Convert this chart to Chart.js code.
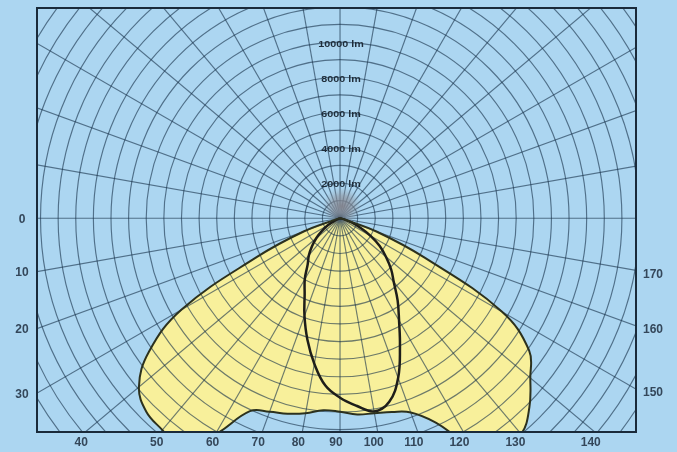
<!DOCTYPE html>
<html><head><meta charset="utf-8">
<script src="https://cdn.jsdelivr.net/npm/chart.js@4/dist/chart.umd.min.js"></script>
<style>html,body{margin:0;padding:0;background:#acd6f1;}canvas{display:block;}</style>
</head><body>
<canvas id="c" width="677" height="452"></canvas>
<script>
// gamma angles (0 = left horizontal, 90 = nadir, 180 = right horizontal)
const angles = [0,5,10,15,20,25,30,35,40,45,50,55,60,65,70,75,80,85,90,95,100,105,110,115,120,125,130,135,140,145,150,155,160,165,170,175,180];
// plane C0-C180 (yellow batwing), lm
const planeC0 = [0,0,0,250,2200,5200,10400,13250,14900,15550,15700,15900,14200,12100,11700,11500,11250,10950,11000,11200,11250,11400,11750,12800,14900,15900,16000,15200,14100,13100,10600,5300,2200,250,0,0,0];
// plane C90-C270 (dark narrow curve), lm
const planeC90 = [0,0,0,0,0,350,800,1250,1750,2250,2750,3200,4000,4750,5900,7150,8400,9550,10200,10700,11150,10800,9650,8050,6700,5700,4750,4100,3400,2750,2000,1250,700,250,0,0,0];
// ring labels
const ringValues = [2000,4000,6000,8000,10000];
const ringLabels = ['2000 lm','4000 lm','6000 lm','8000 lm','10000 lm'];
// angle tick labels around frame
const angleTicks = [0,10,20,30,40,50,60,70,80,90,100,110,120,130,140,150,160,170];
const angleTickLabels = ['0','10','20','30','40','50','60','70','80','90','100','110','120','130','140','150','160','170'];
const ringStep = 1000;

function toXY(vals){
  return angles.map((a,i)=>{const t=a*Math.PI/180;return {x:-vals[i]*Math.cos(t),y:-vals[i]*Math.sin(t)};});
}

const polarPlugin = {
  id:'polar',
  beforeDatasetsDraw(chart){
    const {ctx, chartArea:a, scales:{x,y}} = chart;
    const cx = x.getPixelForValue(0), cy = y.getPixelForValue(0);
    const unit = x.getPixelForValue(ringStep) - cx;
    ctx.save();
    ctx.beginPath(); ctx.rect(a.left,a.top,a.right-a.left,a.bottom-a.top); ctx.clip();
    // yellow fill from the library's line path
    const meta = chart.getDatasetMeta(0);
    ctx.beginPath(); meta.dataset.path(ctx); ctx.closePath();
    ctx.fillStyle = '#f8f09b'; ctx.fill();
    // grid
    ctx.strokeStyle = 'rgba(25,50,75,0.62)'; ctx.lineWidth = 1.15;
    for(let k=1;k<=23;k++){ctx.beginPath();ctx.arc(cx,cy,k*unit,0,Math.PI*2);ctx.stroke();}
    for(let d=0;d<360;d+=10){const t=d*Math.PI/180;ctx.beginPath();ctx.moveTo(cx,cy);ctx.lineTo(cx-900*Math.cos(t),cy+900*Math.sin(t));ctx.stroke();}
    // blurred spot at centre
    const g = ctx.createRadialGradient(cx+2,cy-12,0,cx+2,cy-12,19);
    g.addColorStop(0,'rgba(130,130,140,0.95)');g.addColorStop(0.55,'rgba(140,145,155,0.6)');g.addColorStop(1,'rgba(150,160,170,0)');
    ctx.fillStyle=g; ctx.beginPath(); ctx.arc(cx+2,cy-12,19,0,Math.PI*2); ctx.fill();
    // ring labels
    ctx.fillStyle = '#1f2d3a'; ctx.font = 'bold 8px "Liberation Sans", Arial, sans-serif';
    ctx.textAlign='center'; ctx.textBaseline='middle';
    ringValues.forEach((v,i)=>{
      const py = y.getPixelForValue(v) + 2;
      ctx.save(); ctx.translate(cx+1,py); ctx.scale(1.35,1.05); ctx.fillText(ringLabels[i],0,0); ctx.restore();
    });
    ctx.restore();
  },
  afterDraw(chart){
    const {ctx, chartArea:a, scales:{x,y}} = chart;
    const cx = x.getPixelForValue(0), cy = y.getPixelForValue(0);
    ctx.save();
    ctx.strokeStyle = '#1a2a3a'; ctx.lineWidth = 2;
    ctx.strokeRect(a.left,a.top,a.right-a.left,a.bottom-a.top);
    ctx.fillStyle = '#34475a'; ctx.font = 'bold 12px "Liberation Sans", Arial, sans-serif';
    ctx.textAlign='center'; ctx.textBaseline='middle';
    angleTicks.forEach((d,i)=>{
      const t=d*Math.PI/180, dx=-Math.cos(t), dy=Math.sin(t);
      let tt=Infinity, side='';
      if(dx<-1e-9){const s=(a.left-cx)/dx; if(s<tt){tt=s;side='L';}}
      if(dx>1e-9){const s=(a.right-cx)/dx; if(s<tt){tt=s;side='R';}}
      if(dy>1e-9){const s=(a.bottom-cy)/dy; if(s<tt){tt=s;side='B';}}
      const hx=cx+dx*tt, hy=cy+dy*tt;
      if(side==='L') ctx.fillText(angleTickLabels[i], a.left-15, hy+1);
      else if(side==='R') ctx.fillText(angleTickLabels[i], a.right+17, hy+4);
      else ctx.fillText(angleTickLabels[i], hx-4, a.bottom+11);
    });
    ctx.restore();
  }
};

new Chart(document.getElementById('c'),{
  type:'scatter',
  data:{datasets:[
    {data:toXY(planeC0),showLine:true,borderColor:'#2c311e',borderWidth:2,pointRadius:0,tension:0.4,fill:false,clip:0},
    {data:toXY(planeC90),showLine:true,borderColor:'#1e1e1a',borderWidth:2.5,pointRadius:0,tension:0.4,fill:false,clip:0}
  ]},
  options:{
    responsive:false,animation:false,
    layout:{padding:{left:37,right:41,top:8,bottom:20}},
    elements:{line:{capBezierPoints:false}},
    scales:{
      x:{type:'linear',display:false,min:-17200,max:16800},
      y:{type:'linear',display:false,min:-12150,max:11950}
    },
    plugins:{legend:{display:false},tooltip:{enabled:false}}
  },
  plugins:[polarPlugin]
});
</script>
</body></html>
